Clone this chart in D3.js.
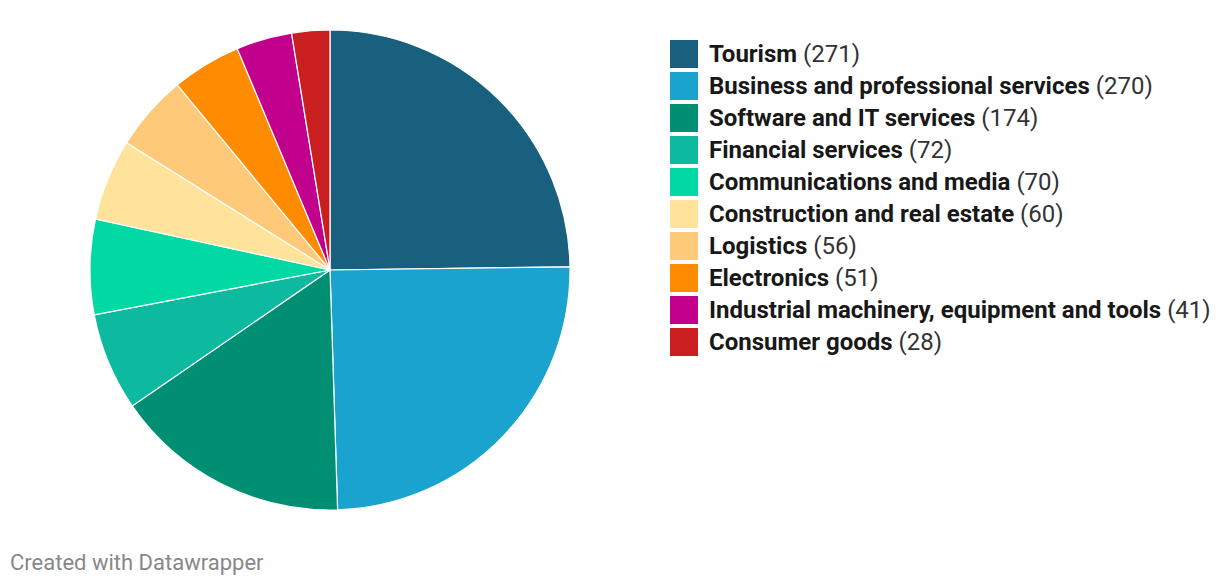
<!DOCTYPE html>
<html><head><meta charset="utf-8">
<script src="https://cdn.jsdelivr.net/npm/d3@7"></script>
<style>body{margin:0;background:#fff;font-family:Roboto,sans-serif;}</style>
</head><body>
<svg id="c" width="1220" height="586"></svg>
<script>
const categories = ["Tourism","Business and professional services","Software and IT services","Financial services","Communications and media","Construction and real estate","Logistics","Electronics","Industrial machinery, equipment and tools","Consumer goods"];
const values = [271,270,174,72,70,60,56,51,41,28];
const colors = ["#18607d","#1ba3cf","#008f72","#0dba9f","#00d9a3","#ffe39a","#ffc97a","#ff8c00","#c2008e","#c91f1f"];

const svg = d3.select("#c");
const cx = 330, cy = 270, r = 240;
const pie = d3.pie().sort(null).value(d => d.v);
const arc = d3.arc().innerRadius(0).outerRadius(r);
const data = categories.map((c,i)=>({c, v: values[i], col: colors[i]}));
const color = d3.scaleOrdinal().domain(categories).range(colors);

svg.append("g").attr("transform",`translate(${cx},${cy})`)
  .selectAll("path").data(pie(data)).join("path")
  .attr("d", arc).attr("fill", d => color(d.data.c))
  .attr("stroke","#fff").attr("stroke-width",1.2);

const lg = svg.append("g").attr("transform","translate(670,40)");
const rows = lg.selectAll("g").data(data).join("g")
  .attr("transform",(d,i)=>`translate(0,${i*32})`);
rows.append("rect").attr("width",28).attr("height",28).attr("fill",d=>color(d.c));
const t = rows.append("text").attr("x",39).attr("y",22)
  .style("font-family","Roboto").style("font-size","24px").attr("fill","#181818");
t.append("tspan").style("font-weight","700").text(d=>d.c);
t.append("tspan").style("font-weight","400").attr("fill","#333").text(d=>` (${d.v})`);

svg.append("text").attr("x",10).attr("y",570).text("Created with Datawrapper")
  .style("font-family","Roboto").style("font-size","22px").attr("fill","#888");
</script>
</body></html>
